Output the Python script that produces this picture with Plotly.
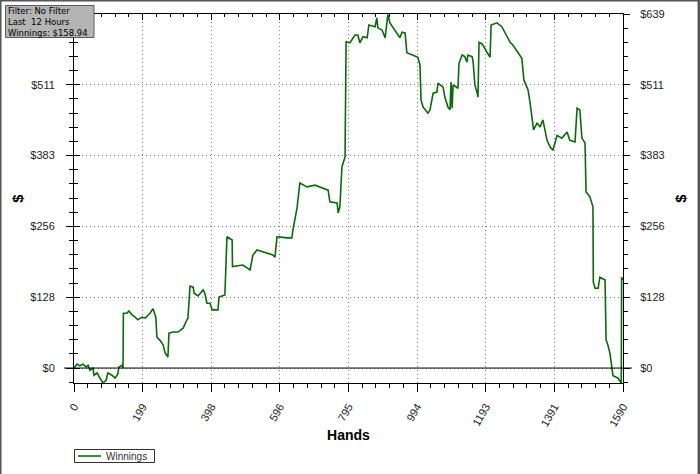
import numpy as np
import plotly.graph_objects as go

# ---- data ----
hands = [0, 3, 9, 17, 26, 35, 41, 46, 55, 58, 67, 75, 84, 93, 98, 110, 119, 127, 130, 139, 142,
         143, 153, 159, 168, 177, 185, 197, 206, 220, 229, 237, 240, 249, 258, 264, 272, 275,
         287, 301, 316, 327, 330, 336, 345, 348, 359, 374, 379, 385, 394, 400, 417, 420, 437,
         443, 458, 459, 489, 510, 518, 530, 576, 582, 588, 617, 631, 634, 646, 654, 675, 698,
         736, 741, 762, 765, 770, 776, 785, 788, 799, 814, 822, 828, 837, 849, 854, 872, 877,
         880, 892, 901, 909, 915, 924, 944, 950, 959, 964, 982, 996, 1002, 1005, 1011, 1025,
         1031, 1040, 1051, 1054, 1069, 1074, 1083, 1089, 1092, 1095, 1098, 1112, 1115, 1124,
         1132, 1138, 1141, 1153, 1156, 1161, 1167, 1170, 1173, 1182, 1196, 1205, 1208, 1225,
         1239, 1248, 1263, 1271, 1286, 1297, 1303, 1315, 1321, 1329, 1331, 1341, 1350, 1358,
         1364, 1370, 1379, 1387, 1393, 1399, 1413, 1428, 1436, 1451, 1457, 1465, 1471, 1480,
         1483, 1494, 1503, 1504, 1509, 1518, 1523, 1538, 1541, 1546, 1552, 1555, 1558, 1561,
         1575, 1585, 1586, 1590]
winnings = [0, 2, 7, 4, 7, 2, 5, -4, 0, -13, -9, -18, -27, -22, -9, -13, -18, -11, 2, 5, 0,
            99, 99, 103, 96, 92, 87, 92, 90, 99, 107, 92, 56, 50, 42, 27, 20, 63,
            65, 65, 72, 87, 90, 148, 146, 135, 130, 141, 135, 117, 117, 105, 105, 128, 132,
            237, 231, 183, 186, 177, 204, 213, 204, 200, 237, 235, 235, 249, 289, 334, 327, 330,
            321, 300, 298, 280, 291, 363, 381, 589, 587, 601, 601, 587, 598, 596, 619, 616, 632,
            614, 610, 596, 638, 623, 614, 596, 606, 605, 569, 565, 561, 547, 484, 471, 460,
            466, 496, 498, 514, 507, 489, 471, 466, 516, 469, 511, 505, 550, 565,
            562, 552, 565, 562, 552, 511, 498, 489, 588, 585, 570, 561, 619, 623,
            616, 606, 588, 583, 570, 559, 520, 502, 478, 444, 430, 442, 435, 448,
            430, 411, 399, 393, 406, 420, 415, 426, 411, 408, 469, 466, 415, 406,
            318, 309, 291, 155, 144, 144, 164, 159, 51, 42, 27, 14, 2, -14,
            -18, -27, 164, 158.94]

x_tick_labels = ["0", "199", "398", "596", "795", "994", "1193", "1391", "1590"]
y_tick_labels = ["$0", "$128", "$256", "$383", "$511", "$639"]
filter_lines = ["Filter: No Filter", "Last  12 Hours", "Winnings: $158.94"]
series_name = "Winnings"

X_MAX = 1590
Y_MAX = 639
Y_MIN = -27

x_tickvals = list(np.linspace(0, X_MAX, len(x_tick_labels)))
y_tickvals = list(np.linspace(0, Y_MAX, len(y_tick_labels)))
x_step = X_MAX / (len(x_tick_labels) - 1) / 5
y_step = Y_MAX / (len(y_tick_labels) - 1) / 5
x_minor = [i * x_step for i in range(0, 41) if i % 5]
y_minor = [i * y_step for i in range(-1, 26) if i % 5]
# on the left the top label sits under the filter box in the reference
left_labels = y_tick_labels[:-1] + [""]

GREEN = "#0a6b0a"
TXT = "#222222"
FONT = "Liberation Sans"
DOTS = "1px,3px"

fig = go.Figure()
fig.add_trace(go.Scatter(x=hands, y=winnings, mode="lines", name=series_name,
                         line=dict(color=GREEN, width=1.6), showlegend=False))
# invisible companions so that the mirrored axes are drawn
for xa, ya in (("x2", "y2"), ("x", "y3")):
    fig.add_trace(go.Scatter(x=hands, y=winnings, mode="lines", xaxis=xa, yaxis=ya,
                             line=dict(color="rgba(0,0,0,0)", width=0),
                             showlegend=False, hoverinfo="skip"))

common_x = dict(range=[0, X_MAX], tickmode="array", tickvals=x_tickvals,
                ticktext=x_tick_labels, showline=True, linecolor="#000", linewidth=1,
                zeroline=False, tickcolor="#000", automargin=False, fixedrange=True)
common_y = dict(range=[Y_MIN, Y_MAX], tickmode="array", tickvals=y_tickvals,
                showline=True, linecolor="#000", linewidth=1,
                zeroline=False, tickcolor="#000", automargin=False, fixedrange=True)

fig.update_layout(
    template="none",
    width=700, height=474, autosize=False,
    margin=dict(l=74, r=77, t=14, b=91, pad=0),
    paper_bgcolor="white", plot_bgcolor="white",
    font=dict(family=FONT, size=11, color=TXT),
    showlegend=False,
    xaxis=dict(**common_x, side="bottom", ticks="outside", ticklen=8,
               tickangle=-60, ticklabelstandoff=4,
               tickfont=dict(family=FONT, size=11, color=TXT),
               showgrid=True, gridcolor="#808080", griddash=DOTS, gridwidth=1,
               minor=dict(tickmode="array", tickvals=x_minor, ticks="outside",
                          ticklen=4, tickcolor="#000", showgrid=False),
               title=dict(text="Hands", standoff=2,
                          font=dict(family=FONT, size=14, color="#000", weight="bold"))),
    xaxis2=dict(**common_x, overlaying="x", anchor="y", side="top", ticks="inside",
                ticklen=6, showticklabels=False, showgrid=False,
                minor=dict(tickmode="array", tickvals=x_minor, ticks="inside",
                           ticklen=3, tickcolor="#000", showgrid=False)),
    yaxis=dict(**common_y, ticktext=left_labels, side="left", ticks="outside", ticklen=7,
               ticklabelstandoff=9,
               tickfont=dict(family=FONT, size=11, color=TXT),
               showgrid=True, gridcolor="#808080", griddash=DOTS, gridwidth=1,
               minor=dict(tickmode="array", tickvals=y_minor, ticks="outside",
                          ticklen=4, tickcolor="#000", showgrid=False),
               title=dict(text="$", standoff=3,
                          font=dict(family=FONT, size=15, color="#000", weight="bold"))),
    yaxis3=dict(**common_y, ticktext=y_tick_labels, overlaying="y", anchor="x", side="left",
                ticks="inside", ticklen=6, showticklabels=False, showgrid=False,
                minor=dict(tickmode="array", tickvals=y_minor, ticks="inside",
                           ticklen=4, tickcolor="#000", showgrid=False)),
    yaxis2=dict(**common_y, ticktext=y_tick_labels, overlaying="y", anchor="x", side="right",
                ticks="outside", ticklen=6, ticklabelstandoff=8,
                tickfont=dict(family=FONT, size=11, color=TXT), showgrid=False,
                minor=dict(tickmode="array", tickvals=y_minor, ticks="outside",
                           ticklen=4, tickcolor="#000", showgrid=False),
                title=dict(text="$", standoff=11,
                           font=dict(family=FONT, size=15, color="#000", weight="bold"))),
)

W, H = 549.0, 369.0
def px(x):
    return (x - 74) / W
def py(y):
    return (383 - y) / H

shapes = [
    # zero line extending slightly beyond the plot
    dict(type="line", xref="paper", yref="y", x0=px(64), x1=px(632), y0=0, y1=0,
         line=dict(color="#000", width=1), layer="above"),
    # outer frame
    dict(type="line", xref="paper", yref="paper", x0=px(0.5), x1=px(0.5), y0=py(0), y1=py(474),
         line=dict(color="#555", width=2)),
    dict(type="line", xref="paper", yref="paper", x0=px(0), x1=px(700), y0=py(0.5), y1=py(0.5),
         line=dict(color="#555", width=2)),
    dict(type="line", xref="paper", yref="paper", x0=px(698.8), x1=px(698.8), y0=py(0), y1=py(474),
         line=dict(color="#555", width=2.5)),
    # filter box
    dict(type="rect", xref="paper", yref="paper", x0=px(5.5), x1=px(94), y0=py(37.5), y1=py(5.5),
         fillcolor="#b4b4b4", line=dict(color="#5a5a5a", width=1), layer="above"),
    # legend box and swatch
    dict(type="rect", xref="paper", yref="paper", x0=px(74.5), x1=px(154.5), y0=py(462.5),
         y1=py(449.5), fillcolor="white", line=dict(color="#333", width=1)),
    dict(type="line", xref="paper", yref="paper", x0=px(78), x1=px(101), y0=py(456),
         y1=py(456), line=dict(color=GREEN, width=1.6)),
]
fig.update_layout(shapes=shapes)

fig.add_annotation(xref="paper", yref="paper", x=px(106), y=py(456), xanchor="left",
                   yanchor="middle", showarrow=False, borderpad=0, borderwidth=0,
                   text=series_name, font=dict(family=FONT, size=10, color="#333"))

for i, line in enumerate(filter_lines):
    fig.add_annotation(xref="paper", yref="paper", x=px(7.5), y=py(10.6 + 11.2 * i),
                       xanchor="left", yanchor="middle", align="left", showarrow=False,
                       borderpad=0, borderwidth=0, text=line,
                       font=dict(family="DejaVu Sans", size=8.5, color="#000"))

fig.write_html("out.html", config={"displayModeBar": False},
               post_script="document.body.style.margin='0px';")
